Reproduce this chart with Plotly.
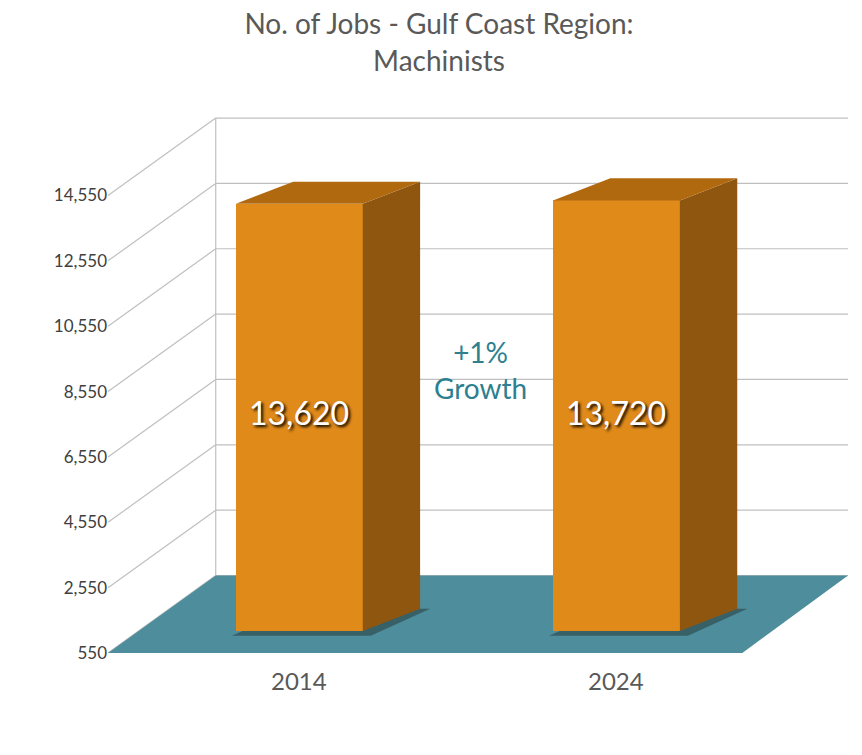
import plotly.graph_objects as go

years = ["2014", "2024"]
jobs = [13620, 13720]
y_ticks = [550, 2550, 4550, 6550, 8550, 10550, 12550, 14550]
title = "No. of Jobs - Gulf Coast Region:<br>Machinists"
growth = "+1%<br>Growth"

BASE = 550
BACK_DX, BACK_DY = 107, 2370
BAR_DX, BAR_DY = 57, 677
OFF_DY = 677
centers = [190, 505]
W = 126

fig = go.Figure()
fig.add_trace(go.Bar(x=centers, y=[v - BASE for v in jobs], base=[BASE + OFF_DY] * 2,
                     width=W, marker=dict(color="#E08A1A", line=dict(width=0)),
                     hoverinfo="skip"))

shapes = []
grid = "#BFBFBF"
for t in y_ticks:
    shapes.append(dict(type="line", x0=0, y0=t, x1=BACK_DX, y1=t + BACK_DY,
                       line=dict(color=grid, width=1.2), layer="below"))
    shapes.append(dict(type="line", x0=BACK_DX, y0=t + BACK_DY, x1=735, y1=t + BACK_DY,
                       line=dict(color=grid, width=1.2), layer="below"))
shapes.append(dict(type="line", x0=BACK_DX, y0=BASE + BACK_DY, x1=BACK_DX, y1=y_ticks[-1] + BACK_DY,
                   line=dict(color=grid, width=1.2), layer="below"))
shapes.append(dict(type="path", layer="below", line=dict(width=0), fillcolor="#4E8E9C",
                   path=f"M 0 {BASE} L {BACK_DX} {BASE+BACK_DY} L 735 {BASE+BACK_DY} L 630 {BASE} Z"))
for c, v in zip(centers, jobs):
    l, r = c - W / 2, c + W / 2
    b0, top = BASE + OFF_DY, v + OFF_DY
    shapes.append(dict(type="path", layer="below", line=dict(width=0), fillcolor="rgba(30,40,40,0.45)",
                       path=f"M {l-4} {b0-150} L {r+8} {b0-150} L {r+BAR_DX+10} {b0+BAR_DY} L {l+BAR_DX} {b0+BAR_DY} Z"))
    shapes.append(dict(type="path", layer="above", line=dict(width=0), fillcolor="#8F5610",
                       path=f"M {r} {b0} L {r+BAR_DX} {b0+BAR_DY} L {r+BAR_DX} {top+BAR_DY} L {r} {top} Z"))
    shapes.append(dict(type="path", layer="above", line=dict(width=0), fillcolor="#B0690F",
                       path=f"M {l} {top} L {l+BAR_DX} {top+BAR_DY} L {r+BAR_DX} {top+BAR_DY} L {r} {top} Z"))

ann = []
for c, v, yr in zip(centers, jobs, years):
    ann.append(dict(x=c, y=7900, text=f"{v:,}", showarrow=False,
                    font=dict(size=32, color="white", family="Lato", shadow="2px 2px 3px #000")))
    ann.append(dict(x=c, y=-0.08, yref="paper", text=yr, showarrow=False,
                    font=dict(size=24, color="#595959", family="Lato")))
ann.append(dict(x=370, y=9200, text=growth, showarrow=False,
                font=dict(size=28, color="#2E7F8F", family="Lato")))

fig.update_layout(
    width=862, height=755, plot_bgcolor="white", paper_bgcolor="white",
    margin=dict(l=100, r=22, t=100, b=110),
    title=dict(text=title, x=0.5, xanchor="center", y=0.965, yanchor="top",
               font=dict(size=28, color="#595959", family="Lato")),
    xaxis=dict(range=[0, 735], visible=False),
    yaxis=dict(range=[550, 17227], tickvals=y_ticks, ticktext=[f"{t:,}" for t in y_ticks],
               showgrid=False, zeroline=False, showline=False, ticks="",
               tickfont=dict(size=17, color="#404040", family="Lato")),
    shapes=shapes, annotations=ann, showlegend=False, bargap=0,
)
fig.write_html("out.html")
